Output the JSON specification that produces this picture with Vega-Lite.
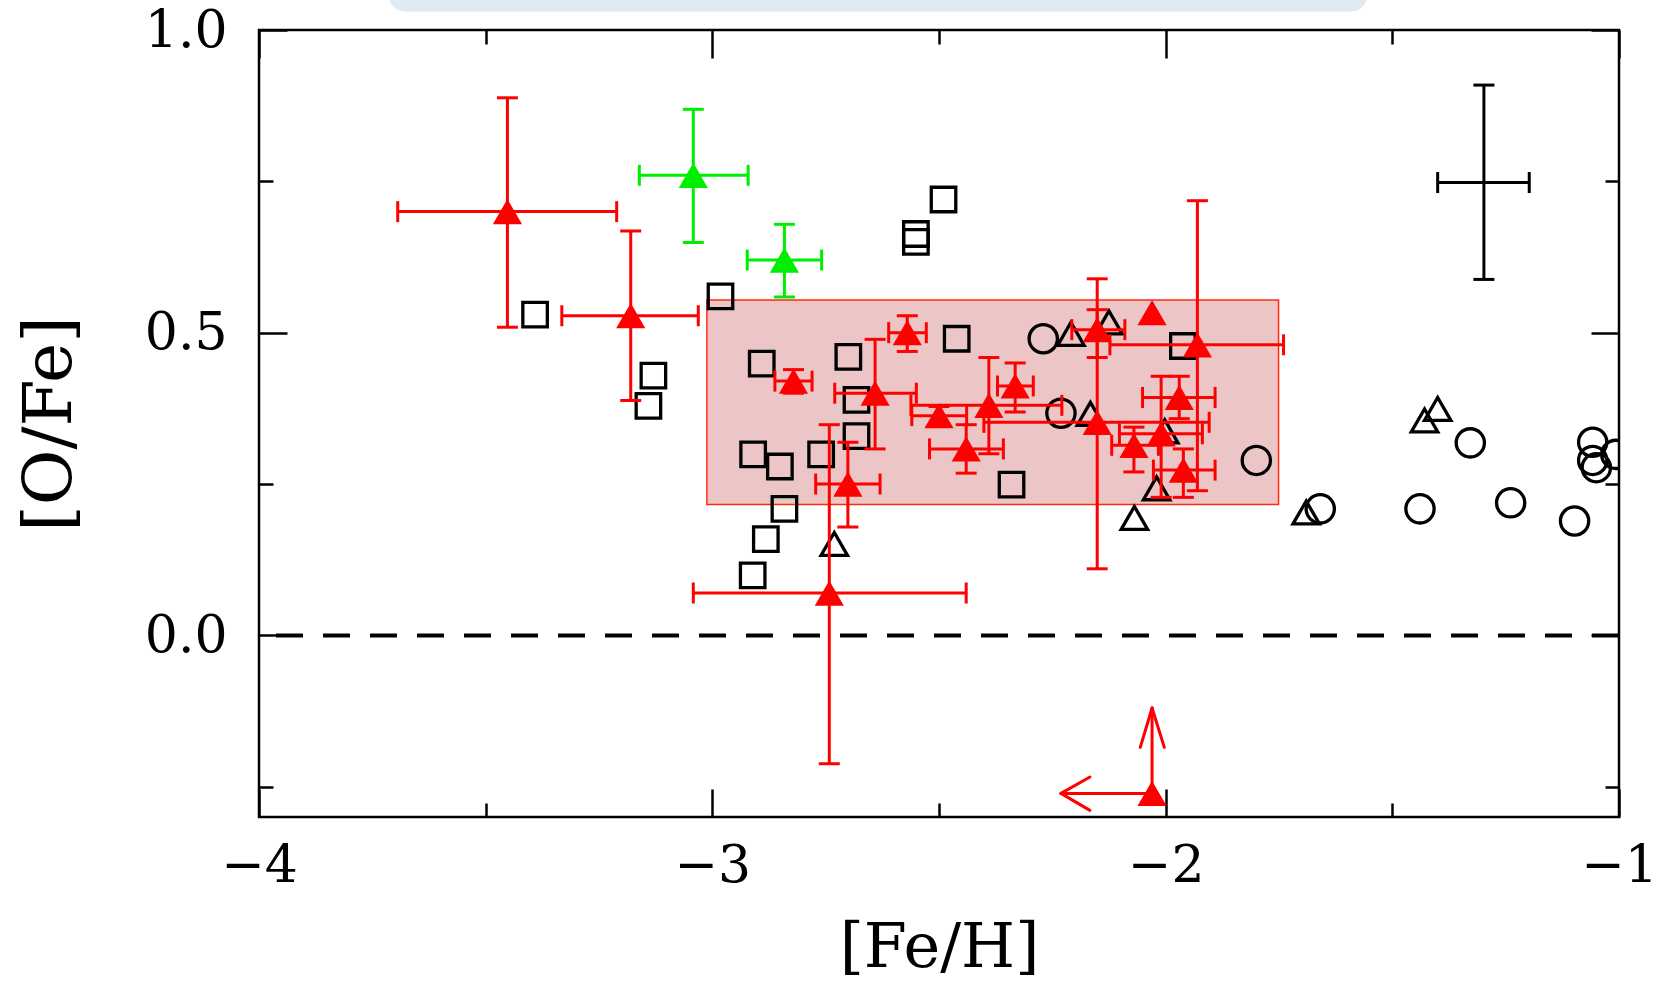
{
  "$schema": "https://vega.github.io/schema/vega-lite/v6.json",
  "width": 1360,
  "height": 787,
  "autosize": {"type": "none"},
  "padding": {"left": 259, "top": 30, "right": 40, "bottom": 166},
  "background": "white",
  "config": {
    "view": {"stroke": "black", "strokeWidth": 2.5},
    "axis": {
      "domain": false, "grid": false, "tickColor": "black", "tickWidth": 2.5,
      "labelFont": "DejaVu Serif", "labelFontSize": 52, "labelColor": "black",
      "titleFont": "DejaVu Serif", "titleFontSize": 62, "titleFontWeight": "normal", "titleColor": "black"
    }
  },
  "datasets": {
    "err": [
      {"g":"red","x":-3.452,"y":0.700,"xlo":-3.694,"xhi":-3.211,"ylo":0.509,"yhi":0.888},
      {"g":"red","x":-3.180,"y":0.528,"xlo":-3.332,"xhi":-3.031,"ylo":0.388,"yhi":0.668},
      {"g":"red","x":-2.821,"y":0.420,"xlo":-2.862,"xhi":-2.780,"ylo":0.400,"yhi":0.439},
      {"g":"red","x":-2.570,"y":0.500,"xlo":-2.611,"xhi":-2.528,"ylo":0.469,"yhi":0.528},
      {"g":"red","x":-2.641,"y":0.400,"xlo":-2.730,"xhi":-2.550,"ylo":0.308,"yhi":0.489},
      {"g":"red","x":-2.701,"y":0.250,"xlo":-2.772,"xhi":-2.630,"ylo":0.179,"yhi":0.319},
      {"g":"red","x":-2.742,"y":0.070,"xlo":-3.042,"xhi":-2.440,"ylo":-0.212,"yhi":0.348},
      {"g":"red","x":-2.500,"y":0.363,"xlo":-2.560,"xhi":-2.439,"ylo":0.348,"yhi":0.378},
      {"g":"red","x":-2.440,"y":0.308,"xlo":-2.521,"xhi":-2.358,"ylo":0.268,"yhi":0.348},
      {"g":"red","x":-2.390,"y":0.380,"xlo":-2.562,"xhi":-2.229,"ylo":0.300,"yhi":0.459},
      {"g":"red","x":-2.332,"y":0.412,"xlo":-2.371,"xhi":-2.292,"ylo":0.369,"yhi":0.450},
      {"g":"red","x":-2.151,"y":0.352,"xlo":-2.401,"xhi":-1.904,"ylo":0.110,"yhi":0.589},
      {"g":"red","x":-2.151,"y":0.505,"xlo":-2.207,"xhi":-2.090,"ylo":0.459,"yhi":0.538},
      {"g":"red","x":-2.030,"y":0.533},
      {"g":"red","x":-1.930,"y":0.480,"xlo":-2.123,"xhi":-1.740,"ylo":0.239,"yhi":0.718},
      {"g":"red","x":-1.970,"y":0.393,"xlo":-2.051,"xhi":-1.891,"ylo":0.358,"yhi":0.428},
      {"g":"red","x":-2.010,"y":0.333,"xlo":-2.102,"xhi":-1.919,"ylo":0.228,"yhi":0.428},
      {"g":"red","x":-2.070,"y":0.314,"xlo":-2.119,"xhi":-2.016,"ylo":0.270,"yhi":0.344},
      {"g":"red","x":-1.961,"y":0.273,"xlo":-2.027,"xhi":-1.891,"ylo":0.228,"yhi":0.308},
      {"g":"red","x":-2.030,"y":-0.261},
      {"g":"green","x":-3.042,"y":0.760,"xlo":-3.161,"xhi":-2.921,"ylo":0.649,"yhi":0.869},
      {"g":"green","x":-2.841,"y":0.620,"xlo":-2.923,"xhi":-2.759,"ylo":0.559,"yhi":0.679},
      {"g":"black","x":-1.298,"y":0.748,"xlo":-1.400,"xhi":-1.198,"ylo":0.588,"yhi":0.909}
    ],
    "open": [
      {"x":-3.391,"y":0.530,"s":"square"},
      {"x":-3.130,"y":0.429,"s":"square"},
      {"x":-3.141,"y":0.379,"s":"square"},
      {"x":-2.982,"y":0.560,"s":"square"},
      {"x":-2.490,"y":0.720,"s":"square"},
      {"x":-2.551,"y":0.663,"s":"square"},
      {"x":-2.551,"y":0.650,"s":"square"},
      {"x":-2.891,"y":0.449,"s":"square"},
      {"x":-2.700,"y":0.460,"s":"square"},
      {"x":-2.461,"y":0.490,"s":"square"},
      {"x":-2.682,"y":0.389,"s":"square"},
      {"x":-2.682,"y":0.329,"s":"square"},
      {"x":-2.910,"y":0.299,"s":"square"},
      {"x":-2.851,"y":0.279,"s":"square"},
      {"x":-2.760,"y":0.299,"s":"square"},
      {"x":-2.841,"y":0.209,"s":"square"},
      {"x":-2.882,"y":0.159,"s":"square"},
      {"x":-2.911,"y":0.099,"s":"square"},
      {"x":-2.340,"y":0.249,"s":"square"},
      {"x":-1.962,"y":0.478,"s":"square"},
      {"x":-2.731,"y":0.151,"s":"triangle-up"},
      {"x":-2.209,"y":0.498,"s":"triangle-up"},
      {"x":-2.125,"y":0.517,"s":"triangle-up"},
      {"x":-2.166,"y":0.366,"s":"triangle-up"},
      {"x":-2.002,"y":0.337,"s":"triangle-up"},
      {"x":-2.020,"y":0.243,"s":"triangle-up"},
      {"x":-2.069,"y":0.194,"s":"triangle-up"},
      {"x":-1.690,"y":0.203,"s":"triangle-up"},
      {"x":-1.429,"y":0.355,"s":"triangle-up"},
      {"x":-1.400,"y":0.374,"s":"triangle-up"},
      {"x":-2.270,"y":0.490,"s":"circle"},
      {"x":-2.231,"y":0.367,"s":"circle"},
      {"x":-1.800,"y":0.289,"s":"circle"},
      {"x":-1.659,"y":0.209,"s":"circle"},
      {"x":-1.328,"y":0.318,"s":"circle"},
      {"x":-1.439,"y":0.209,"s":"circle"},
      {"x":-1.239,"y":0.219,"s":"circle"},
      {"x":-1.098,"y":0.189,"s":"circle"},
      {"x":-1.058,"y":0.319,"s":"circle"},
      {"x":-1.058,"y":0.289,"s":"circle"},
      {"x":-1.050,"y":0.277,"s":"circle"},
      {"x":-1.007,"y":0.299,"s":"circle"}
    ],
    "arrows": [
      {"x":-2.030,"y":-0.261,"x2":-2.231,"y2":-0.261},
      {"x":-2.231,"y":-0.261,"x2":-2.167,"y2":-0.234},
      {"x":-2.231,"y":-0.261,"x2":-2.167,"y2":-0.289},
      {"x":-2.030,"y":-0.261,"x2":-2.030,"y2":-0.120},
      {"x":-2.030,"y":-0.120,"x2":-2.056,"y2":-0.185},
      {"x":-2.030,"y":-0.120,"x2":-2.003,"y2":-0.185}
    ],
    "boxes": [
      {"x":-3.012,"x2":-1.751,"y":0.216,"y2":0.554}
    ],
    "topbox": [
      {"x":-3.714,"x2":-1.556,"y":1.25,"y2":1.031}
    ],
    "zero": [{"y":0}]
  },
  "resolve": {"axis": {"x": "independent", "y": "independent"}},
  "layer": [
    {
      "data": {"name": "topbox"},
      "mark": {"type": "rect", "clip": false, "fill": "#9aa3ad", "opacity": 0.55, "cornerRadius": 16, "yOffset": 3, "xOffset": 1},
      "encoding": {
        "x": {"field": "x", "type": "quantitative", "scale": {"domain": [-4, -1], "nice": false, "zero": false}, "axis": null},
        "x2": {"field": "x2"},
        "y": {"field": "y", "type": "quantitative", "scale": {"domain": [-0.3, 1.0], "nice": false, "zero": false}, "axis": null},
        "y2": {"field": "y2"}
      }
    },
    {
      "data": {"name": "topbox"},
      "mark": {"type": "rect", "clip": false, "fill": "#e1e9f4", "cornerRadius": 16},
      "encoding": {
        "x": {"field": "x", "type": "quantitative", "scale": {"domain": [-4, -1], "nice": false, "zero": false}, "axis": null},
        "x2": {"field": "x2"},
        "y": {"field": "y", "type": "quantitative", "scale": {"domain": [-0.3, 1.0], "nice": false, "zero": false}, "axis": null},
        "y2": {"field": "y2"}
      }
    },
    {
      "data": {"name": "boxes"},
      "mark": {"type": "rect", "fill": "#ecc6c6", "stroke": "#ff2a10", "strokeWidth": 1.5},
      "encoding": {
        "x": {"field": "x", "type": "quantitative", "scale": {"domain": [-4, -1], "nice": false, "zero": false},
          "axis": {"orient": "bottom", "title": "[Fe/H]", "values": [-4, -3.5, -3, -2.5, -2, -1.5, -1],
            "tickSize": {"condition": {"test": "datum.value % 1 === 0", "value": -28}, "value": -14},
            "labelExpr": "datum.value % 1 === 0 ? format(datum.value, 'd') : ''",
            "labelPadding": 51, "titlePadding": 12, "labelFlush": false, "labelOverlap": false}},
        "x2": {"field": "x2"},
        "y": {"field": "y", "type": "quantitative", "scale": {"domain": [-0.3, 1.0], "nice": false, "zero": false},
          "axis": {"orient": "left", "title": "[O/Fe]", "titleFontSize": 68, "values": [-0.25, 0, 0.25, 0.5, 0.75, 1.0],
            "tickSize": {"condition": {"test": "datum.value % 0.5 === 0", "value": -28}, "value": -14},
            "labelExpr": "datum.value % 0.5 === 0 ? format(datum.value, '.1f') : ''",
            "labelPadding": 60, "titlePadding": 60, "labelFlush": false, "labelOverlap": false}},
        "y2": {"field": "y2"}
      }
    },
    {
      "data": {"name": "zero"},
      "mark": {"type": "rule", "color": "black", "strokeWidth": 4, "strokeDash": [27, 20]},
      "encoding": {
        "y": {"field": "y", "type": "quantitative", "scale": {"domain": [-0.3, 1.0], "nice": false, "zero": false}, "axis": null}
      }
    },
    {
      "data": {"name": "open"},
      "mark": {"type": "point", "filled": false, "stroke": "black", "strokeWidth": 3.3, "opacity": 1, "clip": true},
      "encoding": {
        "x": {"field": "x", "type": "quantitative", "scale": {"domain": [-4, -1], "nice": false, "zero": false}, "axis": null},
        "y": {"field": "y", "type": "quantitative", "scale": {"domain": [-0.3, 1.0], "nice": false, "zero": false}, "axis": null},
        "shape": {"field": "s", "type": "nominal", "scale": {"domain": ["square", "triangle-up", "circle"], "range": ["square", "triangle-up", "circle"]}, "legend": null},
        "size": {"field": "s", "type": "nominal", "scale": {"domain": ["square", "triangle-up", "circle"], "range": [600, 800, 560]}, "legend": null}
      }
    },
    {
      "data": {"name": "err"},
      "transform": [{"filter": "isValid(datum.xlo)"}],
      "mark": {"type": "rule", "strokeWidth": 3},
      "encoding": {
        "x": {"field": "xlo", "type": "quantitative", "scale": {"domain": [-4, -1], "nice": false, "zero": false}, "axis": null},
        "x2": {"field": "xhi"},
        "y": {"field": "y", "type": "quantitative", "scale": {"domain": [-0.3, 1.0], "nice": false, "zero": false}, "axis": null},
        "color": {"field": "g", "type": "nominal", "scale": {"domain": ["red", "green", "black"], "range": ["#ff0000", "#00ee00", "#000000"]}, "legend": null}
      }
    },
    {
      "data": {"name": "err"},
      "transform": [{"filter": "isValid(datum.ylo)"}],
      "mark": {"type": "rule", "strokeWidth": 3},
      "encoding": {
        "x": {"field": "x", "type": "quantitative", "scale": {"domain": [-4, -1], "nice": false, "zero": false}, "axis": null},
        "y": {"field": "ylo", "type": "quantitative", "scale": {"domain": [-0.3, 1.0], "nice": false, "zero": false}, "axis": null},
        "y2": {"field": "yhi"},
        "color": {"field": "g", "type": "nominal", "scale": {"domain": ["red", "green", "black"], "range": ["#ff0000", "#00ee00", "#000000"]}, "legend": null}
      }
    },
    {
      "data": {"name": "err"},
      "transform": [{"filter": "isValid(datum.xlo)"}],
      "mark": {"type": "tick", "orient": "vertical", "size": 21, "thickness": 3, "opacity": 1},
      "encoding": {
        "x": {"field": "xlo", "type": "quantitative", "scale": {"domain": [-4, -1], "nice": false, "zero": false}, "axis": null},
        "y": {"field": "y", "type": "quantitative", "scale": {"domain": [-0.3, 1.0], "nice": false, "zero": false}, "axis": null},
        "color": {"field": "g", "type": "nominal", "scale": {"domain": ["red", "green", "black"], "range": ["#ff0000", "#00ee00", "#000000"]}, "legend": null}
      }
    },
    {
      "data": {"name": "err"},
      "transform": [{"filter": "isValid(datum.xhi)"}],
      "mark": {"type": "tick", "orient": "vertical", "size": 21, "thickness": 3, "opacity": 1},
      "encoding": {
        "x": {"field": "xhi", "type": "quantitative", "scale": {"domain": [-4, -1], "nice": false, "zero": false}, "axis": null},
        "y": {"field": "y", "type": "quantitative", "scale": {"domain": [-0.3, 1.0], "nice": false, "zero": false}, "axis": null},
        "color": {"field": "g", "type": "nominal", "scale": {"domain": ["red", "green", "black"], "range": ["#ff0000", "#00ee00", "#000000"]}, "legend": null}
      }
    },
    {
      "data": {"name": "err"},
      "transform": [{"filter": "isValid(datum.ylo)"}],
      "mark": {"type": "tick", "orient": "horizontal", "size": 21, "thickness": 3, "opacity": 1},
      "encoding": {
        "x": {"field": "x", "type": "quantitative", "scale": {"domain": [-4, -1], "nice": false, "zero": false}, "axis": null},
        "y": {"field": "ylo", "type": "quantitative", "scale": {"domain": [-0.3, 1.0], "nice": false, "zero": false}, "axis": null},
        "color": {"field": "g", "type": "nominal", "scale": {"domain": ["red", "green", "black"], "range": ["#ff0000", "#00ee00", "#000000"]}, "legend": null}
      }
    },
    {
      "data": {"name": "err"},
      "transform": [{"filter": "isValid(datum.yhi)"}],
      "mark": {"type": "tick", "orient": "horizontal", "size": 21, "thickness": 3, "opacity": 1},
      "encoding": {
        "x": {"field": "x", "type": "quantitative", "scale": {"domain": [-4, -1], "nice": false, "zero": false}, "axis": null},
        "y": {"field": "yhi", "type": "quantitative", "scale": {"domain": [-0.3, 1.0], "nice": false, "zero": false}, "axis": null},
        "color": {"field": "g", "type": "nominal", "scale": {"domain": ["red", "green", "black"], "range": ["#ff0000", "#00ee00", "#000000"]}, "legend": null}
      }
    },
    {
      "data": {"name": "arrows"},
      "mark": {"type": "rule", "color": "#ff0000", "strokeWidth": 3, "strokeCap": "round"},
      "encoding": {
        "x": {"field": "x", "type": "quantitative", "scale": {"domain": [-4, -1], "nice": false, "zero": false},
          "axis": {"orient": "top", "title": null, "labels": false, "values": [-4, -3.5, -3, -2.5, -2, -1.5, -1],
            "tickSize": {"condition": {"test": "datum.value % 1 === 0", "value": -28}, "value": -14}}},
        "x2": {"field": "x2"},
        "y": {"field": "y", "type": "quantitative", "scale": {"domain": [-0.3, 1.0], "nice": false, "zero": false},
          "axis": {"orient": "right", "title": null, "labels": false, "values": [-0.25, 0, 0.25, 0.5, 0.75, 1.0],
            "tickSize": {"condition": {"test": "datum.value % 0.5 === 0", "value": -28}, "value": -14}}},
        "y2": {"field": "y2"}
      }
    },
    {
      "data": {"name": "err"},
      "transform": [{"filter": "datum.g !== 'black'"}],
      "mark": {"type": "point", "shape": "triangle-up", "filled": true, "size": 850, "opacity": 1},
      "encoding": {
        "x": {"field": "x", "type": "quantitative", "scale": {"domain": [-4, -1], "nice": false, "zero": false}, "axis": null},
        "y": {"field": "y", "type": "quantitative", "scale": {"domain": [-0.3, 1.0], "nice": false, "zero": false}, "axis": null},
        "color": {"field": "g", "type": "nominal", "scale": {"domain": ["red", "green", "black"], "range": ["#ff0000", "#00ee00", "#000000"]}, "legend": null}
      }
    }
  ]
}
